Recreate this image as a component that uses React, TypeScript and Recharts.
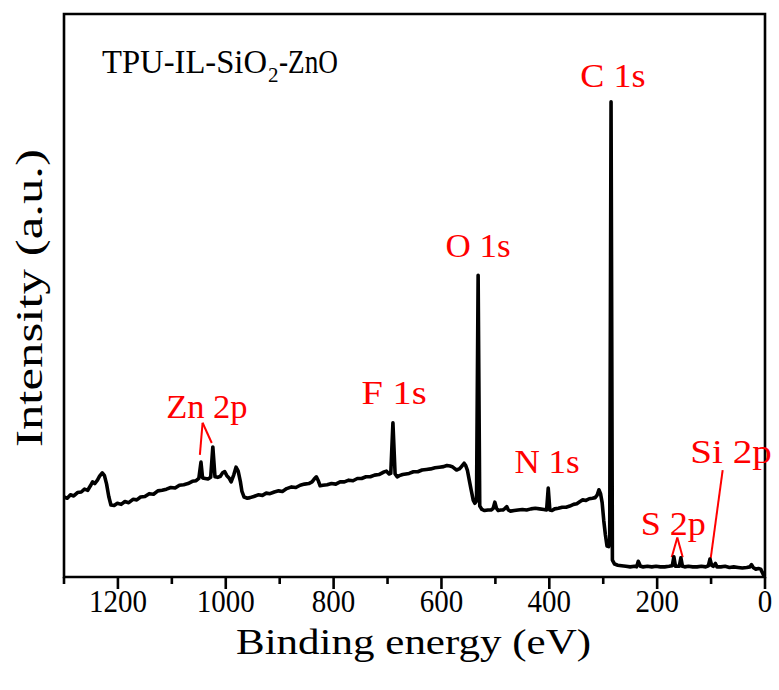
import { Label, Line, LineChart, ReferenceArea, ReferenceDot, ReferenceLine, XAxis, YAxis } from "recharts";

// binding energy (eV), intensity (a.u., 0-100 of the frame)
const survey: [number, number][] = [
  [1300, 14.2], [1294, 14.0], [1288, 14.6], [1282, 14.4], [1275, 15.0], [1268, 15.1], [1262, 15.6],
  [1256, 15.4], [1251, 16.2], [1247, 16.9], [1243, 16.6], [1238, 17.2], [1234, 17.9], [1229, 18.5],
  [1225, 18.0], [1221, 16.5], [1217, 14.3], [1213, 12.8], [1207, 12.7], [1201, 13.1], [1194, 12.9],
  [1187, 13.4], [1180, 13.2], [1172, 13.8], [1165, 13.7], [1158, 14.2], [1150, 14.3], [1142, 14.8],
  [1134, 14.7], [1126, 15.3], [1118, 15.4], [1110, 15.6], [1102, 15.9], [1094, 15.8], [1086, 16.3],
  [1078, 16.4], [1070, 16.6], [1062, 17.0], [1055, 17.1], [1050, 17.5], [1046, 20.4], [1043, 17.6],
  [1038, 17.5], [1033, 17.4], [1028, 17.7], [1024, 23.1], [1020, 17.8], [1015, 17.7], [1010, 17.9],
  [1006, 18.5], [1002, 18.7], [998, 18.0], [994, 17.6], [990, 16.9], [985, 18.2], [981, 19.5],
  [977, 18.8], [973, 17.0], [970, 15.2], [966, 14.2], [960, 14.0], [955, 14.1], [948, 14.3],
  [940, 14.6], [932, 14.5], [925, 14.9], [918, 14.8], [910, 15.1], [902, 15.3], [895, 15.2],
  [887, 15.7], [878, 16.0], [870, 15.9], [862, 16.3], [854, 16.5], [846, 16.6], [840, 16.9],
  [836, 17.4], [832, 17.8], [828, 17.0], [825, 16.2], [820, 16.3], [812, 16.4], [804, 16.6],
  [796, 16.5], [788, 16.9], [780, 16.9], [772, 17.2], [764, 17.1], [756, 17.5], [748, 17.5],
  [740, 17.8], [732, 17.8], [724, 18.1], [716, 18.2], [708, 18.6], [702, 18.8], [697, 18.3],
  [694, 18.4], [690, 27.4], [686, 18.3], [682, 17.8], [678, 18.0], [672, 18.2], [666, 18.3],
  [660, 18.4], [652, 18.7], [644, 18.7], [636, 19.0], [628, 19.1], [620, 19.2], [612, 19.4],
  [604, 19.5], [596, 19.6], [590, 19.8], [584, 19.7], [580, 19.6], [576, 19.3], [572, 19.0],
  [567, 19.2], [563, 19.6], [558, 20.2], [555, 19.8], [552, 19.0], [548, 17.0], [545, 15.5],
  [541, 13.6], [538, 13.1], [535, 13.5], [532, 53.6], [529, 12.6], [525, 12.0], [520, 11.8],
  [514, 11.9], [508, 11.9], [504, 12.2], [501, 13.3], [498, 12.2], [495, 11.8], [490, 11.9],
  [486, 11.9], [482, 12.2], [479, 12.5], [476, 11.9], [472, 11.7], [465, 11.8], [458, 11.9],
  [450, 12.0], [442, 11.9], [434, 12.1], [426, 12.2], [418, 12.1], [410, 12.0], [405, 11.9],
  [402, 15.8], [399, 11.9], [395, 11.8], [390, 12.1], [383, 12.2], [376, 12.4], [369, 12.4],
  [362, 12.6], [355, 12.9], [349, 13.0], [343, 13.4], [338, 13.7], [332, 13.6], [326, 13.9],
  [320, 14.0], [315, 14.1], [311, 14.6], [308, 15.5], [305, 14.8], [302, 13.2], [299, 10.0],
  [296, 7.5], [293, 5.5], [290, 5.4], [288, 6.5], [285.5, 84.4], [283, 3.0], [279, 2.3],
  [273, 2.1], [266, 2.0], [258, 1.9], [250, 1.8], [242, 1.9], [238, 1.8], [235, 2.8],
  [231, 1.9], [226, 1.8], [218, 1.9], [210, 1.8], [202, 1.9], [194, 1.8], [186, 1.8],
  [178, 1.9], [172, 2.0], [169, 3.6], [166, 1.9], [159, 1.9], [156, 3.4], [153, 1.9],
  [149, 1.8], [142, 1.9], [134, 1.8], [126, 1.8], [118, 1.9], [110, 1.8], [105, 2.0],
  [102, 3.2], [99, 2.1], [96, 1.9], [92, 2.4], [89, 1.8], [82, 1.8], [74, 1.9],
  [66, 1.7], [58, 1.8], [50, 1.7], [42, 1.6], [34, 1.7], [28, 1.8], [25, 2.2],
  [22, 1.7], [17, 1.4], [12, 1.5], [8, 1.4], [5, 0.8], [3, 0.4], [0, 0.9],
];

const energyTicks = [0, 100, 200, 300, 400, 500, 600, 700, 800, 900, 1000, 1100, 1200, 1300];
const labelledTicks = [0, 200, 400, 600, 800, 1000, 1200];

// peak annotations, anchored in data units (eV, intensity)
const peakNames = ["C 1s", "O 1s", "F 1s", "Zn 2p", "N 1s", "S 2p", "Si 2p"];
const peakNameEnergy = [282, 532, 688, 1035, 404, 170, 63];
const peakNameIntensity = [87.0, 56.8, 30.7, 28.2, 18.5, 7.5, 20.2];

const pointerLines: [number, number, number, number][] = [
  [1043, 27.4, 1048, 21.7],
  [1043, 27.4, 1026, 23.8],
  [162.6, 7.0, 173, 3.5],
  [162.6, 7.0, 152.6, 3.5],
  [78.5, 19.0, 100.7, 3.3],
];

const sampleName = ["TPU-IL-SiO", "2", "-ZnO"];

const data = survey.map(([energy, intensity]) => ({ energy, intensity }));

const FONT = "'Liberation Serif', 'Times New Roman', serif";

function EnergyTick(props: any) {
  const { x, y, payload } = props;
  const major = labelledTicks.includes(payload.value);
  const label = String(payload.value);
  return (
    <g>
      <line x1={x} x2={x} y1={y} y2={y + (major ? 12 : 7)} stroke="#000" strokeWidth={2.6} />
      {major && (
        <text
          x={x}
          y={y + 35}
          textAnchor="middle"
          fontFamily={FONT}
          fontSize={31}
          fill="#000"
          textLength={label.length * 14.5}
          lengthAdjust="spacingAndGlyphs"
        >
          {label}
        </text>
      )}
    </g>
  );
}

function PeakName(props: any) {
  const { cx, cy, text } = props;
  return (
    <text
      x={cx}
      y={cy}
      textAnchor="middle"
      fontFamily={FONT}
      fontSize={33}
      fill="#ff0000"
      textLength={text.length * 16.3}
      lengthAdjust="spacingAndGlyphs"
    >
      {text}
    </text>
  );
}

function Title(props: any) {
  const { cx, cy } = props;
  return (
    <g fontFamily={FONT} fill="#000">
      <text x={cx} y={cy} fontSize={33} textLength={165} lengthAdjust="spacingAndGlyphs">
        {sampleName[0]}
      </text>
      <text x={cx + 166} y={cy + 9} fontSize={21}>
        {sampleName[1]}
      </text>
      <text x={cx + 177} y={cy} fontSize={33} textLength={59} lengthAdjust="spacingAndGlyphs">
        {sampleName[2]}
      </text>
    </g>
  );
}

export default function App() {
  return (
    <div style={{ position: "absolute", left: 0, top: 0, width: 779, height: 690, background: "#fff" }}>
      <LineChart width={779} height={690} data={data} margin={{ top: 14, right: 14, bottom: 0, left: 0 }}>
        <XAxis
          dataKey="energy"
          type="number"
          domain={[0, 1300]}
          reversed
          allowDataOverflow
          ticks={energyTicks}
          interval={0}
          height={113}
          tickSize={0}
          tickMargin={0}
          axisLine={false}
          tickLine={false}
          tick={<EnergyTick />}
        >
          <Label
            content={(p: any) => (
              <text
                x={p.viewBox.x + p.viewBox.width / 2 - 1}
                y={654}
                textAnchor="middle"
                fontFamily={FONT}
                fontSize={36}
                fill="#000"
                textLength={355}
                lengthAdjust="spacingAndGlyphs"
              >
                Binding energy (eV)
              </text>
            )}
          />
        </XAxis>
        <YAxis type="number" domain={[0, 100]} allowDataOverflow width={64} tick={false} axisLine={false} tickLine={false}>
          <Label
            content={() => (
              <text
                x={42}
                y={298}
                transform="rotate(-90, 42, 298)"
                textAnchor="middle"
                fontFamily={FONT}
                fontSize={38}
                fill="#000"
                textLength={298}
                lengthAdjust="spacingAndGlyphs"
              >
                Intensity (a.u.)
              </text>
            )}
          />
        </YAxis>
        <ReferenceArea x1={0} x2={1300} y1={0} y2={100} fill="none" fillOpacity={0} stroke="#000" strokeWidth={2.6} />
        {pointerLines.map(([x1, y1, x2, y2], i) => (
          <ReferenceLine
            key={"p" + i}
            segment={[
              { x: x1, y: y1 },
              { x: x2, y: y2 },
            ]}
            stroke="#ff0000"
            strokeWidth={2}
          />
        ))}
        {peakNames.map((name, i) => (
          <ReferenceDot
            key={name}
            x={peakNameEnergy[i]}
            y={peakNameIntensity[i]}
            r={0}
            shape={(p: any) => <PeakName {...p} text={name} />}
          />
        ))}
        <ReferenceDot x={1229.5} y={89.6} r={0} shape={(p: any) => <Title {...p} />} />
        <Line
          dataKey="intensity"
          type="linear"
          stroke="#000"
          strokeWidth={3.6}
          strokeLinejoin="round"
          dot={false}
          isAnimationActive={false}
        />
      </LineChart>
    </div>
  );
}
